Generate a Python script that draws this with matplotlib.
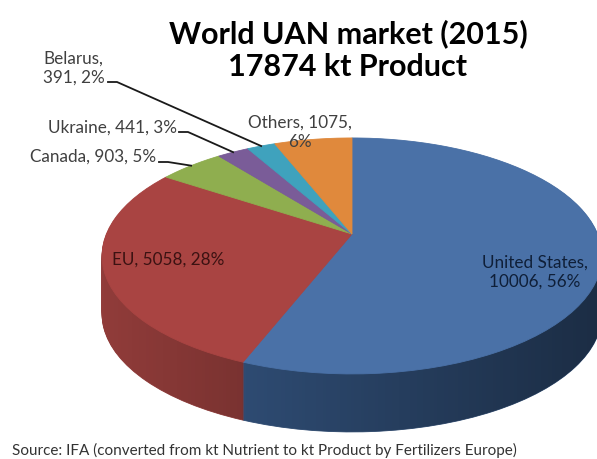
import numpy as np
import matplotlib
matplotlib.use("Agg")
import matplotlib.pyplot as plt
from matplotlib import transforms as mtransforms
from matplotlib.path import Path
from matplotlib.patches import Polygon

# data
names = ["United States", "EU", "Canada", "Ukraine", "Belarus", "Others"]
values = [10006, 5058, 903, 441, 391, 1075]
pcts = [56, 28, 5, 3, 2, 6]
top_colors = ["#4a71a7", "#a94442", "#8fae4f", "#7a5c98", "#3fa2bd", "#e0893c"]
side_colors = ["#2e4b72", "#913c3a", "#657d36", "#56406e", "#2a7589", "#a5622a"]

title = "World UAN market (2015)\n17874 kt Product"
source = "Source: IFA (converted from kt Nutrient to kt Product by Fertilizers Europe)"

# geometry of the tilted pie (pixels)
CX, CY = 352, 235
A, B, K = 245.6, 113.9, 0.186
DEPTH = 58


class Tilt(mtransforms.Transform):
    """Perspective view of the unit disc lying on a table."""
    input_dims = 2
    output_dims = 2

    def __init__(self, dy=0.0):
        super().__init__()
        self.dy = dy

    def transform_non_affine(self, xy):
        xy = np.asarray(xy, dtype=float).reshape(-1, 2)
        u, v = xy[:, 0], xy[:, 1]
        s = 1.0 / (1.0 + K * v)
        return np.column_stack([CX + A * u * s, CY - B * v * s + self.dy])

    def transform_path_non_affine(self, path):
        polys = path.to_polygons(transform=mtransforms.Affine2D().scale(400))
        parts = [Path(p / 400.0, closed=True) for p in polys]
        flat = Path.make_compound_path(*parts)
        return Path(self.transform_non_affine(flat.vertices), flat.codes)


def tilted_pie(ax, colors, dy, z):
    wedges, _ = ax.pie(values, colors=colors, startangle=90, counterclock=False,
                       wedgeprops=dict(linewidth=0.6))
    for w in wedges:
        w.set_edgecolor(w.get_facecolor())
        w.set_transform(Tilt(dy) + ax.transData)
        w.set_zorder(z)
    return wedges


def unit(t):
    return np.column_stack([np.cos(t), np.sin(t)])


plt.rcParams["font.family"] = ["Lato", "DejaVu Sans"]

fig = plt.figure(figsize=(5.97, 4.60), dpi=100)
ax = fig.add_axes([0, 0, 1, 1])

# side of the pie: stacked darker layers, then the top face
for dy in range(DEPTH, 0, -1):
    tilted_pie(ax, side_colors, dy, 1)
tilted_pie(ax, top_colors, 0, 2)

# horizontal shading on the side wall (per slice, darker to the right)
total = float(sum(values))
cum = np.cumsum([0] + values[:-1])
us_end = np.radians(90 - 360 * values[0] / total)
x_split = Tilt(0).transform(unit(np.array([us_end])))[0, 0]
xs = np.arange(597) + 0.5
alpha = np.where(xs < x_split,
                 0.16 * np.clip((xs - 100) / (x_split - 100), 0, 1),
                 0.40 * (xs - x_split) / (597 - x_split))
shade = np.zeros((1, 597, 4))
shade[0, :, 3] = alpha
th_r = np.arcsin(-K)
upper = Tilt(0).transform(unit(np.linspace(th_r, np.pi - th_r, 200)))
lower = Tilt(DEPTH).transform(unit(np.linspace(np.pi - th_r, 2 * np.pi + th_r, 200)))
wall = Polygon(np.vstack([upper, lower]), closed=True, transform=ax.transData)
im = ax.imshow(shade, extent=(0, 597, 460, 0), aspect="auto",
               interpolation="bilinear", zorder=1.5)
im.set_clip_path(wall)

ax.set_aspect("auto")
ax.set_xlim(0, 597)
ax.set_ylim(460, 0)
ax.axis("off")

labels = [f"{n}, {v}, {p}%" for n, v, p in zip(names, values, pcts)]
gray = "#404040"
fs = 12.3

ax.text(535, 272, "United States,\n10006, 56%", ha="center", va="center",
        fontsize=fs, color="#0f1f38", linespacing=1.25)
ax.text(112, 260, labels[1], ha="left", va="center", fontsize=fs, color="#3b1212")
ax.text(30, 157, labels[2], ha="left", va="center", fontsize=fs, color=gray)
ax.text(48, 128, labels[3], ha="left", va="center", fontsize=fs, color=gray)
ax.text(43, 68, "Belarus,\n391, 2%", ha="left", va="center", fontsize=fs,
        color=gray, linespacing=1.25)
ax.text(300, 132, "Others, 1075,\n6%", ha="center", va="center", fontsize=fs,
        color=gray, linespacing=1.25)

# leader lines to the rim of the small slices
mids = np.radians(90 - 360 * (cum + np.array(values) / 2) / total)
rim = Tilt(0).transform(unit(mids))
starts = {2: (159, 163), 3: (179, 133), 4: (108, 83)}
for i, (sx, sy) in starts.items():
    ax.plot([sx, sx + 9, rim[i, 0]], [sy, sy, rim[i, 1]], color="#1a1a1a",
            lw=1.3, zorder=3)

ax.text(348, 50, title, ha="center", va="center", fontsize=22, fontweight="bold",
        color="black", linespacing=1.18)
ax.text(12, 450, source, ha="left", va="center", fontsize=11, color="#333333")

fig.savefig("out.png", dpi=100)
